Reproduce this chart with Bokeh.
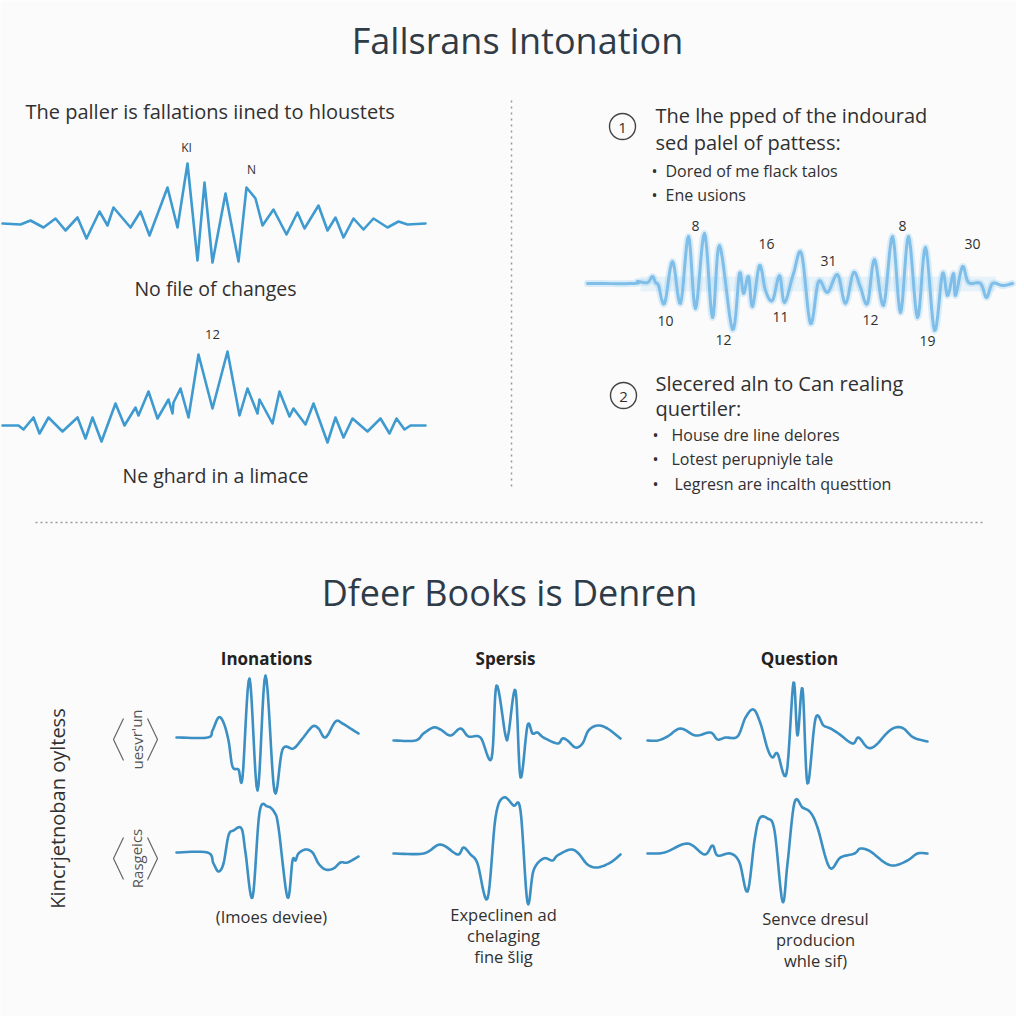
from bokeh.plotting import figure
from bokeh.models import Range1d
from bokeh.embed import file_html
from bokeh.resources import INLINE
from bokeh.core.properties import value

FONT = "Open Sans"

# ---------------- data: waveforms (t = time offset, v = amplitude) ----------------
wave_a_t = [2,20,30,43,55,65,77,86,99,107,113,130,140,149,167,177,187,197,204,212,225,238,246,255,262,273,286,297,304,318,327,335,343,353,363,373,387,398,407,425]
wave_a_v = [0,-1,3,-4,5,-7,6,-15,12,-2,16,-4,12,-12,36,-4,60,-37,41,-39,30,-38,36,25,-2,14,-11,11,-5,18,-7,6,-14,5,-6,5,-4,2,-1,0]

wave_b_t = [2,18,23,33,39,48,62,77,85,92,101,115,124,135,138,148,157,168,172,173,180,188,198,212,227,239,247,257,259,272,279,289,293,305,313,327,335,343,352,367,380,389,396,404,410,425]
wave_b_v = [0,0,-4,8,-8,8,-6,8,-13,8,-16,22,0,18,10,34,7,26,12,23,37,8,71,17,74,10,37,12,26,2,34,9,17,1,22,-17,8,-12,7,-6,7,-8,7,-4,0,0]

wave_r_t = [0,47,50,60,65,68,71,77,85,93,101,108,117,125,132,145,152,156,161,165,172,178,185,192,197,206,214,223,231,240,250,258,266,273,280,287,296,305,313,321,330,338,347,355,360,366,368,375,381,393,399,405,415,425]
wave_r_v = [0,0,2,1,7,1,-2,-20,22,-20,47,-25,50,-34,38,-46,10,-10,7,-23,18,-7,-17,8,-19,10,30,-40,2,-9,9,-20,11,-4,-20,24,-22,47,-29,47,-34,36,-47,10,-12,10,-12,17,1,0,-14,0,-2,0]
wave_r_labels = ["8", "16", "31", "8", "30", "10", "11", "12", "12", "19"]
wave_r_label_t = [108, 179, 241, 315, 385, 78, 193, 283, 136, 340]
wave_r_label_v = [58, 40, 23, 58, 40, -37, -33, -36, -56, -57]

inon_top_t = [0,31,36,42,47,52,56,62,66,73,81,89,98,106,117,126,136,142,149,159,166,174,182]
inon_top_v = [0,0,7,20,15,-3,-29,-32,-40,59,-53,62,-54,-12,-11,-1,11,9,0,16,14,9,4]
inon_bot_t = [0,31,37,42,47,52,57,65,69,76,83,91,98,102,111,116,119,122,129,136,142,149,157,164,171,182]
inon_bot_v = [0,0,-11,-19,-11,17,22,24,0,-45,40,46,40,25,-45,-8,-8,-1,3,0,-11,-17,-16,-10,-10,-4]

spers_top_t = [0,22,30,40,47,57,67,75,87,98,103,112,115,122,127,134,139,144,150,164,169,174,182,189,195,204,214,227]
spers_top_v = [0,0,7,13,11,5,12,4,3,-18,55,5,7,50,-37,15,7,8,3,-3,2,0,-7,-3,10,15,12,2]
spers_bot_t = [0,30,47,64,70,77,84,94,102,110,120,127,134,140,150,159,164,177,185,194,204,217,227]
spers_bot_v = [0,0,9,-1,6,-1,-10,-45,36,56,48,43,-49,-17,-5,-7,-2,4,0,-11,-14,-9,-1]

quest_top_t = [0,10,20,33,48,63,70,78,90,98,106,113,120,125,130,139,146,150,155,160,168,176,183,191,205,211,220,228,240,248,256,266,280]
quest_top_v = [1,1,5,13,6,9,2,4,5,24,32,18,-7,-16,-12,-32,59,6,53,-42,23,16,13,8,-2,4,-6,-4,9,14,13,4,0]
quest_bot_t = [0,17,40,57,65,70,83,92,100,107,112,120,127,135,140,147,155,163,170,182,193,207,213,223,237,247,260,270,280]
quest_bot_v = [0,1,10,-1,8,-2,0,-9,-38,13,35,35,23,-48,-10,51,46,41,26,-14,-4,0,5,2,-9,-12,-7,0,0]

# ---------------- text ----------------
title_top = "Fallsrans Intonation"
title_bottom = "Dfeer Books is Denren"
left_heading = "The paller is fallations iined to hloustets"
left_captions = ["No file of changes", "Ne ghard in a limace"]
left_labels_a = ["KI", "N"]
left_label_b = "12"
point1_lines = ["The lhe pped of the indourad", "sed palel of pattess:"]
point1_bullets = ["Dored of me flack talos", "Ene usions"]
point2_lines = ["Slecered aln to Can realing", "quertiler:"]
point2_bullets = ["House dre line delores", "Lotest perupniyle tale", "Legresn are incalth questtion"]
col_titles = ["Inonations", "Spersis", "Question"]
col_captions = [["(Imoes deviee)"], ["Expeclinen ad", "chelaging", "fine šlig"], ["Senvce dresul", "producion", "whle sif)"]]
side_label = "Kincrjetnoban oyltess"
row_labels = ["uesvr'un", "Rasgeics"]

# ---------------- figure (1 unit = 1 px, y downwards) ----------------
W = H = 1016
p = figure(width=W, height=H, output_backend="svg", toolbar_location=None,
           x_range=Range1d(0, W), y_range=Range1d(H, 0),
           x_axis_location=None, y_axis_location=None, min_border=0,
           background_fill_color="#fbfbfb", border_fill_color="#fbfbfb",
           outline_line_color=None)
p.xgrid.visible = False
p.ygrid.visible = False

DARK = "#2f3b47"
TXT = "#303030"


def txt(x, y, s, size, align="left", color=TXT, style="normal", angle=0.0, baseline="middle"):
    p.text(x=[x], y=[y], text=[s], text_font=value(FONT), text_font_size=f"{size}px",
           text_align=align, text_baseline=baseline, text_color=color,
           text_font_style=style, angle=angle)


def smooth(xs, ys, n=8):
    # Catmull-Rom rendering of the read points (drawing only)
    ox, oy = [], []
    m = len(xs)
    for i in range(m - 1):
        x0, y0 = (xs[i - 1], ys[i - 1]) if i > 0 else (xs[i], ys[i])
        x1, y1 = xs[i], ys[i]
        x2, y2 = xs[i + 1], ys[i + 1]
        x3, y3 = (xs[i + 2], ys[i + 2]) if i + 2 < m else (x2, y2)
        for k in range(n):
            u = k / n
            u2, u3 = u * u, u * u * u
            ox.append(0.5 * (2 * x1 + (-x0 + x2) * u + (2 * x0 - 5 * x1 + 4 * x2 - x3) * u2 + (-x0 + 3 * x1 - 3 * x2 + x3) * u3))
            oy.append(0.5 * (2 * y1 + (-y0 + y2) * u + (2 * y0 - 5 * y1 + 4 * y2 - y3) * u2 + (-y0 + 3 * y1 - 3 * y2 + y3) * u3))
    ox.append(xs[-1]); oy.append(ys[-1])
    return ox, oy


def wave(t, v, x0, base, color, width=2.5, alpha=1.0, curved=False):
    xs = [x0 + a for a in t]
    ys = [base - b for b in v]
    if curved:
        xs, ys = smooth(xs, ys)
    p.line(xs, ys, line_color=color, line_width=width, line_alpha=alpha,
           line_join="round", line_cap="round")

# titles
txt(517, 40, title_top, 36, align="center", color=DARK)
txt(509, 592, title_bottom, 36, align="center", color=DARK)

# left top section
txt(25, 111, left_heading, 20)
LEFT_BLUE = "#3f9ad0"
wave(wave_a_t, wave_a_v, 0, 223, LEFT_BLUE, 2.6)
txt(186, 147, left_labels_a[0], 12, align="center")
txt(251, 169, left_labels_a[1], 12, align="center")
txt(215, 288, left_captions[0], 19.5, align="center")
txt(212, 334, left_label_b, 13, align="center")
wave(wave_b_t, wave_b_v, 0, 425, LEFT_BLUE, 2.6)
txt(215, 475, left_captions[1], 19.5, align="center")

# separators
p.line([511, 511], [100, 490], line_color="#9a9a9a", line_width=1.5, line_dash="2 4")
p.line([35, 985], [522, 522], line_color="#9a9a9a", line_width=1.5, line_dash="2 3")

# right section, point 1
p.scatter([622], [126], size=26, marker="circle", fill_color=None, line_color="#444444", line_width=1.4)
txt(622, 127, "1", 15, align="center")
txt(655, 115, point1_lines[0], 20)
txt(655, 142, point1_lines[1], 20)
for i, b in enumerate(point1_bullets):
    yy = 170 + 24 * i
    txt(651, yy, "•", 16)
    txt(665, yy, b, 16)

RX0, RBASE = 587, 283
p.quad(left=[640], right=[995], top=[276], bottom=[291], fill_color="#cfe6f6", fill_alpha=0.45, line_color=None)
wave(wave_r_t, wave_r_v, RX0, RBASE, "#9fd0f0", 7, 0.35, curved=True)
wave(wave_r_t, wave_r_v, RX0, RBASE, "#7fbee9", 3, curved=True)
for s, tt, vv in zip(wave_r_labels, wave_r_label_t, wave_r_label_v):
    txt(RX0 + tt, RBASE - vv, s, 14, align="center")

# right section, point 2
p.scatter([623], [395], size=26, marker="circle", fill_color=None, line_color="#444444", line_width=1.4)
txt(623, 396, "2", 15, align="center")
txt(655, 383, point2_lines[0], 20)
txt(655, 408, point2_lines[1], 20)
for i, b in enumerate(point2_bullets):
    yy = 434 + 24.5 * i
    txt(652, yy, "•", 16)
    txt(671 + (3 if i == 2 else 0), yy, b, 16)

# bottom section
BOT_BLUE = "#3b8fc3"
col_x = [266, 505, 799]
for cx, t in zip(col_x, col_titles):
    txt(cx, 658, t, 17, align="center", color="#222222", style="bold")

wave(inon_top_t, inon_top_v, 176, 737, BOT_BLUE, 2.6, curved=True)
wave(inon_bot_t, inon_bot_v, 176, 852, BOT_BLUE, 2.6, curved=True)
wave(spers_top_t, spers_top_v, 393, 740, BOT_BLUE, 2.6, curved=True)
wave(spers_bot_t, spers_bot_v, 393, 853, BOT_BLUE, 2.6, curved=True)
wave(quest_top_t, quest_top_v, 647, 741, BOT_BLUE, 2.6, curved=True)
wave(quest_bot_t, quest_bot_v, 647, 853, BOT_BLUE, 2.6, curved=True)

cap_x = [271, 503, 815]
cap_y0 = [916, 914, 918]
for cx, cy, lines in zip(cap_x, cap_y0, col_captions):
    for j, s in enumerate(lines):
        txt(cx, cy + 21 * j, s, 16.5, align="center")

# side labels
txt(57, 808, side_label, 20, align="center", angle=1.5708)
for cy, lab in zip([739, 858], row_labels):
    txt(136, cy, lab, 15, align="center", color="#555555", angle=1.5708)
    p.line([123, 113, 123], [cy - 21, cy, cy + 21], line_color="#666666", line_width=1.2)
    p.line([147, 157, 147], [cy - 21, cy, cy + 21], line_color="#666666", line_width=1.2)

open("out.html", "w").write(file_html(p, INLINE))
